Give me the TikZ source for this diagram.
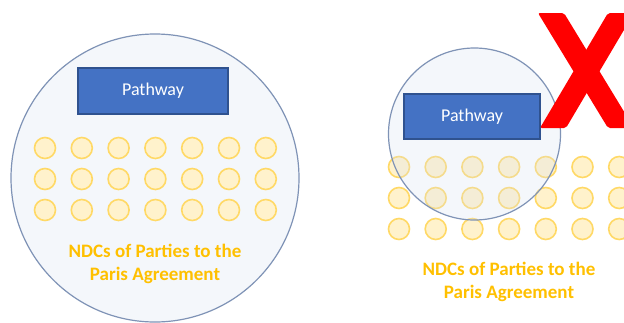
\documentclass[tikz,border=0pt]{standalone}
\usepackage{fontspec}
\setmainfont{Carlito}
\definecolor{circfill}{HTML}{DAE3F3}
\definecolor{circline}{HTML}{7F93B6}
\definecolor{boxfill}{HTML}{4472C4}
\definecolor{boxline}{HTML}{2F528F}
\definecolor{dotfill}{HTML}{FFF2CC}
\definecolor{dotline}{HTML}{FFD966}
\definecolor{ndc}{HTML}{FFC000}
\definecolor{xred}{HTML}{FF0000}
\tikzset{
  bigcirc/.style={circle, draw=circline, line width=1.2pt, fill=circfill, fill opacity=0.27, draw opacity=1, inner sep=0pt},
  pathbox/.style={rectangle, draw=boxline, line width=1.5pt, fill=boxfill, text=white, font=\fontsize{18}{21}\selectfont, inner sep=0pt},
  ndcdot/.style={circle, draw=dotline, line width=1.6pt, fill=dotfill, minimum size=21pt, inner sep=0pt},
  ndctext/.style={align=center, text=ndc, font=\bfseries\fontsize{19}{23}\selectfont},
  redx/.style={fill=xred, draw=none, rounded corners=2pt}
}
\begin{document}
\begin{tikzpicture}[x=1pt,y=-1pt]
\useasboundingbox (0,0) rectangle (624,322);
\fill[white] (0,0) rectangle (624,322);
% left
\node[bigcirc, minimum size=288pt] (lc) at (155,178) {};
\foreach \r/\yy in {1/148,2/179,3/210}{
  \foreach \i in {0,...,6}{
    \node[ndcdot] (ld\r\i) at ({45+36.8*\i},\yy) {};
  }
}
\node[pathbox, minimum width=150pt, minimum height=46pt] (lb) at (153,91) {Pathway};
\node[ndctext] (lt) at (155,264) {NDCs of Parties to the\\Paris Agreement};
% right
\foreach \r/\yy in {1/167,2/198,3/229}{
  \foreach \i in {0,...,6}{
    \node[ndcdot] (rd\r\i) at ({399+36.7*\i},\yy) {};
  }
}
\node[bigcirc, minimum size=172pt] (rc) at (474.5,134) {};
\node[pathbox, minimum width=136pt, minimum height=45pt] (rb) at (472,116.5) {Pathway};
\node[ndctext] (rt) at (509,282) {NDCs of Parties to the\\Paris Agreement};
% red X
\fill[redx] (538,13) -- (564,13) -- (634,128) -- (608,128) -- cycle;
\fill[redx] (608,13) -- (634,13) -- (566,128) -- (540,128) -- cycle;
\end{tikzpicture}
\end{document}
